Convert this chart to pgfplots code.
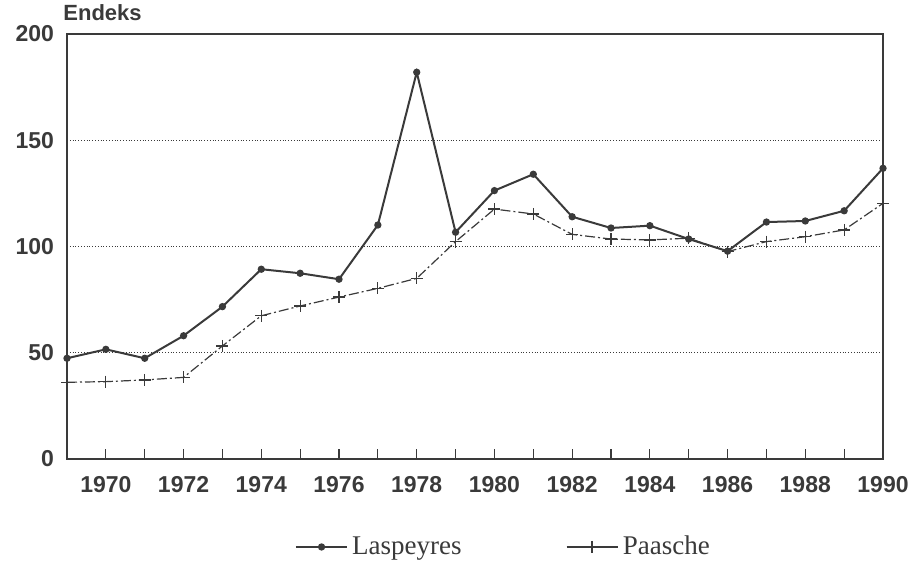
\documentclass[border=0pt]{standalone}
\usepackage{fontspec}
\setmainfont{Liberation Sans}
\newfontfamily\seriffont{Liberation Serif}
\usepackage{pgfplots}
\pgfplotsset{compat=1.18}
\definecolor{ink}{HTML}{3A3A3A}
\begin{document}
\begin{tikzpicture}
\path[use as bounding box] (0,0) rectangle (460pt,282.5pt);
\begin{axis}[
  at={(33.5pt,53pt)}, anchor=south west,
  width=408pt, height=212.5pt, scale only axis,
  xmin=1969, xmax=1990, ymin=0, ymax=200,
  clip=false,
  axis line style={ink, line width=1pt},
  xtick={1970,1972,...,1990},
  minor xtick={1969,1971,...,1989},
  xtick pos=bottom, tick align=inside,
  major tick length=5pt, minor tick length=5pt,
  every tick/.style={ink, line width=0.6pt},
  ytick={0,50,100,150,200},
  ytick style={draw=none},
  ymajorgrids, grid style={ink, densely dotted, line width=0.6pt},
  /pgf/number format/assume math mode=true,
  /pgf/number format/1000 sep={},
  tick label style={font=\fontsize{11.5}{11.5}\selectfont\bfseries, text=ink},
  yticklabel style={xshift=-3pt},
  xticklabel style={yshift=-5pt},
  legend columns=2,
  legend style={at={(axis description cs:0.536,-0.207)}, anchor=center, draw=none,
    font=\seriffont\fontsize{13.5}{13.5}\selectfont, text=ink,
    /tikz/every even column/.append style={column sep=50pt}},
  legend image code/.code={\draw[mark repeat=2,mark phase=2,solid,line width=1pt]
    plot coordinates {(0cm,0cm) (0.45cm,0cm) (0.9cm,0cm)};},
]
\addplot[ink, line width=1pt, mark=*, mark size=1.3pt, mark options={solid}] coordinates {
(1969,47.4) (1970,51.6) (1971,47.4) (1972,58.0) (1973,71.7) (1974,89.3)
(1975,87.4) (1976,84.6) (1977,110.1) (1978,182.0) (1979,106.7) (1980,126.3)
(1981,134.0) (1982,114.0) (1983,108.7) (1984,109.8) (1985,103.5) (1986,97.8)
(1987,111.5) (1988,112.0) (1989,116.8) (1990,136.8)
};
\addlegendentry{Laspeyres}
\addplot[ink, line width=0.6pt, dash pattern=on 5pt off 1.5pt on 1pt off 1.5pt, mark=+, mark size=3pt, mark options={solid}] coordinates {
(1969,36.1) (1970,36.4) (1971,37.2) (1972,38.4) (1973,53.2) (1974,67.4)
(1975,72.0) (1976,76.2) (1977,80.3) (1978,85.0) (1979,102.3) (1980,117.6)
(1981,115.3) (1982,105.7) (1983,103.5) (1984,103.1) (1985,103.9) (1986,97.6)
(1987,102.3) (1988,104.6) (1989,107.8) (1990,120.3)
};
\addlegendentry{Paasche}
\node[anchor=base west, font=\fontsize{11}{11}\selectfont\bfseries, text=ink, inner sep=0pt]
  at ([xshift=-2pt, yshift=6.5pt]rel axis cs:0,1) {Endeks};
\end{axis}
\end{tikzpicture}
\end{document}
